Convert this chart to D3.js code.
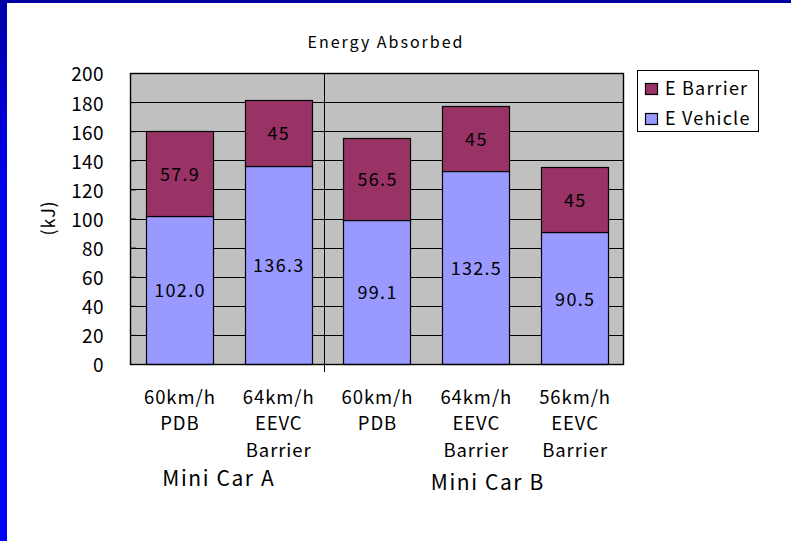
<!DOCTYPE html>
<html>
<head>
<meta charset="utf-8">
<script src="https://cdn.jsdelivr.net/npm/d3@7/dist/d3.min.js"></script>
<style>
  html, body { margin: 0; padding: 0; background: #ffffff; }
  svg { display: block; }
  text { font-family: "Noto Sans CJK JP", "Noto Sans", sans-serif; fill: #000; }
</style>
</head>
<body>
<svg id="chart" width="791" height="541"></svg>
<script>
// Energy absorbed per crash test, stacked: vehicle + barrier
const categories = [
  ["60km/h", "PDB"],
  ["64km/h", "EEVC", "Barrier"],
  ["60km/h", "PDB"],
  ["64km/h", "EEVC", "Barrier"],
  ["56km/h", "EEVC", "Barrier"]
];
const groups = ["Mini Car A", "Mini Car B"];
const groupOf = [0, 0, 1, 1, 1];
const vehicleValues = [102.0, 136.3, 99.1, 132.5, 90.5];
const barrierValues = [57.9, 45, 56.5, 45, 45];
const vehicleLabels = ["102.0", "136.3", "99.1", "132.5", "90.5"];
const barrierLabels = ["57.9", "45", "56.5", "45", "45"];
const yTicks = [0, 20, 40, 60, 80, 100, 120, 140, 160, 180, 200];
const seriesNames = ["E Barrier", "E Vehicle"];
const seriesColors = { "E Barrier": "#993366", "E Vehicle": "#9999FF" };

const svg = d3.select("#chart");
const W = 791, H = 541;

// slide frame: dark band on top, blue band on the left
const defs = svg.append("defs");
const grad = defs.append("linearGradient").attr("id", "leftBand")
  .attr("x1", 0).attr("y1", 0).attr("x2", 0).attr("y2", 1);
grad.append("stop").attr("offset", "0%").attr("stop-color", "#0000A8");
grad.append("stop").attr("offset", "35%").attr("stop-color", "#0000F0");
grad.append("stop").attr("offset", "100%").attr("stop-color", "#0000FF");
svg.append("rect").attr("x", 0).attr("y", 0).attr("width", 7).attr("height", H).attr("fill", "url(#leftBand)");
svg.append("rect").attr("x", 0).attr("y", 0).attr("width", W).attr("height", 3).attr("fill", "#0000A0");

const plot = { left: 130, top: 73, right: 624, bottom: 364 };

const x = d3.scaleBand()
  .domain(d3.range(categories.length))
  .range([plot.left, plot.right])
  .paddingInner(0.32).paddingOuter(0.16);
const xStep = d3.scaleBand().domain(d3.range(categories.length)).range([plot.left, plot.right]);
const y = d3.scaleLinear().domain([0, 200]).range([plot.bottom, plot.top]);

// plot background
svg.append("rect")
  .attr("x", plot.left).attr("y", plot.top)
  .attr("width", plot.right - plot.left).attr("height", plot.bottom - plot.top)
  .attr("fill", "#C0C0C0");

// gridlines
svg.append("g").selectAll("line").data(yTicks.filter(d => d > 0 && d < 200)).join("line")
  .attr("x1", plot.left).attr("x2", plot.right)
  .attr("y1", d => Math.round(y(d)) + 0.5).attr("y2", d => Math.round(y(d)) + 0.5)
  .attr("stroke", "#000").attr("stroke-width", 1);

// y axis with inside ticks
const yAxis = svg.append("g")
  .attr("transform", `translate(${plot.left},0)`)
  .call(d3.axisLeft(y).tickValues(yTicks).tickSize(-6).tickPadding(26).tickFormat(d3.format("d")));
yAxis.select(".domain").remove();
yAxis.selectAll(".tick line").attr("stroke", "#000");
yAxis.selectAll(".tick text")
  .attr("font-size", 19).attr("fill", "#000")
  .style("font-family", '"Noto Sans CJK JP", sans-serif')
  .style("letter-spacing", "0.4px")
  .attr("dy", "0.42em");

// group divider between the two cars
const groupBoundaries = d3.range(1, categories.length).filter(i => groupOf[i] !== groupOf[i - 1]);
svg.append("g").selectAll("line").data(groupBoundaries).join("line")
  .attr("x1", i => Math.round(xStep(i)) - 3.5).attr("x2", i => Math.round(xStep(i)) - 3.5)
  .attr("y1", plot.top).attr("y2", plot.bottom + 8)
  .attr("stroke", "#000").attr("stroke-width", 1);

// stacked bars
const rows = categories.map((c, i) => ({ i, vehicle: vehicleValues[i], barrier: barrierValues[i] }));
const stack = d3.stack().keys(["vehicle", "barrier"])(rows);
const keyName = { vehicle: "E Vehicle", barrier: "E Barrier" };
const labelsFor = { vehicle: vehicleLabels, barrier: barrierLabels };

const layers = svg.append("g").selectAll("g").data(stack).join("g")
  .attr("fill", d => seriesColors[keyName[d.key]]);
layers.selectAll("rect").data(d => d).join("rect")
  .attr("x", d => Math.round(x(d.data.i)) + 0.5)
  .attr("width", Math.round(x.bandwidth()))
  .attr("y", d => Math.round(y(d[1])) + 0.5)
  .attr("height", d => Math.round(y(d[0])) - Math.round(y(d[1])))
  .attr("stroke", "#000").attr("stroke-width", 1.2);

// value labels centred inside each segment
stack.forEach(layer => {
  svg.append("g").selectAll("text").data(layer).join("text")
    .attr("x", d => x(d.data.i) + x.bandwidth() / 2 + 0.6)
    .attr("y", d => (y(d[0]) + y(d[1])) / 2 + 1)
    .attr("dy", "0.36em")
    .attr("text-anchor", "middle")
    .attr("font-size", 18)
    .style("letter-spacing", "1.3px")
    .text(d => labelsFor[layer.key][d.data.i]);
});

// plot border on top
svg.append("rect")
  .attr("x", plot.left + 0.5).attr("y", plot.top + 0.5)
  .attr("width", plot.right - plot.left - 1).attr("height", plot.bottom - plot.top)
  .attr("fill", "none").attr("stroke", "#000").attr("stroke-width", 1.4);

// category labels (multi-line)
const catG = svg.append("g");
categories.forEach((lines, i) => {
  const cx = xStep(i) + xStep.bandwidth() / 2 + 0.5;
  lines.forEach((t, k) => {
    catG.append("text")
      .attr("x", cx).attr("y", 397 + k * 26.5)
      .attr("dy", "0.36em").attr("text-anchor", "middle")
      .attr("font-size", 18.5)
      .style("letter-spacing", "0.9px")
      .text(t);
  });
});

// group labels
const groupCenters = [218, 487];
svg.append("g").selectAll("text").data(groups).join("text")
  .attr("x", (d, i) => groupCenters[i] + 0.8)
  .attr("y", (d, i) => i === 0 ? 478 : 482)
  .attr("dy", "0.36em").attr("text-anchor", "middle")
  .attr("font-size", 21)
  .style("letter-spacing", "1.6px")
  .text(d => d);

// title
svg.append("text").attr("x", 386).attr("y", 42).attr("dy", "0.36em")
  .attr("text-anchor", "middle").attr("font-size", 16)
  .style("letter-spacing", "2px")
  .text("Energy Absorbed");

// y axis title
svg.append("text").attr("transform", "translate(49,218) rotate(-90)")
  .attr("dy", "0.36em").attr("text-anchor", "middle").attr("font-size", 18)
  .style("letter-spacing", "0.8px")
  .text("(kJ)");

// legend
const lg = svg.append("g").attr("transform", "translate(637,70)");
lg.append("rect").attr("x", 0.5).attr("y", 0.5).attr("width", 121).attr("height", 61)
  .attr("fill", "#fff").attr("stroke", "#000").attr("stroke-width", 1);
const items = lg.selectAll("g.item").data(seriesNames).join("g").attr("class", "item")
  .attr("transform", (d, i) => `translate(0,${19 + i * 30})`);
items.append("rect").attr("x", 8.5).attr("y", -5.5).attr("width", 12).attr("height", 11)
  .attr("fill", d => seriesColors[d]).attr("stroke", "#000").attr("stroke-width", 1.2);
items.append("text").attr("x", 28).attr("y", 0).attr("dy", "0.36em")
  .attr("font-size", 18)
  .style("letter-spacing", "1.2px")
  .text(d => d);
</script>
</body>
</html>
